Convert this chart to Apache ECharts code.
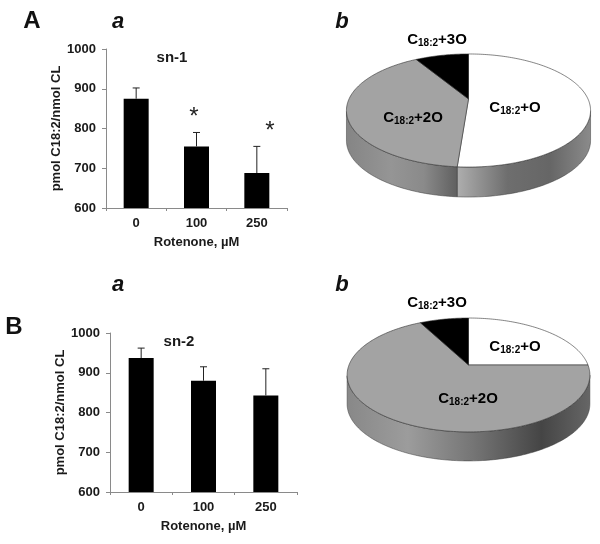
<!DOCTYPE html>
<html><head><meta charset="utf-8">
<style>html,body{margin:0;padding:0;background:#fff}#c{width:600px;height:544px}</style>
<script src="https://cdn.jsdelivr.net/npm/echarts@6/dist/echarts.min.js"></script>
</head><body><div id="c"></div>
<script>
const categories = ['0', '100', '250'];
const snOneMeans = [875, 755, 688];
const snOneErrorTops = [902, 790, 755];
const snTwoMeans = [937, 880, 843];
const snTwoErrorTops = [962, 915, 910];
const pieSlices = ['C18:2+O', 'C18:2+2O', 'C18:2+3O'];
const pieAValues = [51.2, 40.2, 8.6];
const pieBValues = [25, 67.3, 7.7];
const pieColors = ['#ffffff', '#a3a3a3', '#000000'];

const FONT = '"Liberation Sans", Arial, sans-serif';
const TXT = '#1a1a1a';

function axisSet(gridIndex, yName, nameGap) {
  return {
    x: {
      type: 'category', gridIndex, data: categories,
      name: 'Rotenone, µM', nameLocation: 'middle', nameGap: 28,
      nameTextStyle: { fontFamily: FONT, fontWeight: 'bold', fontSize: 13, color: TXT },
      axisLine: { lineStyle: { color: '#8a8a8a', width: 1 } },
      axisTick: { show: true, alignWithLabel: false, length: 3, lineStyle: { color: '#8a8a8a' } },
      axisLabel: { fontFamily: FONT, fontWeight: 'bold', fontSize: 13, color: TXT, margin: 9 },
      splitLine: { show: false }
    },
    y: {
      type: 'value', gridIndex, min: 600, max: 1000, interval: 100,
      name: yName, nameLocation: 'middle', nameGap, nameRotate: 90,
      nameTextStyle: { fontFamily: FONT, fontWeight: 'bold', fontSize: 13, color: TXT },
      axisLine: { show: true, lineStyle: { color: '#8a8a8a', width: 1 } },
      axisTick: { show: true, length: 4, lineStyle: { color: '#8a8a8a' } },
      axisLabel: { fontFamily: FONT, fontWeight: 'bold', fontSize: 13, color: TXT, margin: 10,
                   formatter: (v) => String(v) },
      splitLine: { show: false }
    }
  };
}
const a0 = axisSet(0, 'pmol C18:2/nmol CL', 41);
const a1 = axisSet(1, 'pmol C18:2/nmol CL', 41);

function bars(idx, means) {
  return { type: 'bar', xAxisIndex: idx, yAxisIndex: idx, data: means, barWidth: 25,
           itemStyle: { color: '#000' }, z: 3, silent: true };
}
function whisker(idx, means, tops) {
  return {
    type: 'custom', xAxisIndex: idx, yAxisIndex: idx, z: 2, silent: true,
    data: means.map((m, i) => [i, m, tops[i]]),
    encode: { x: 0, y: [1, 2] },
    renderItem(params, api) {
      const lo = api.coord([api.value(0), api.value(1)]);
      const hi = api.coord([api.value(0), api.value(2)]);
      const st = { stroke: '#222', lineWidth: 1, fill: 'none' };
      return { type: 'group', children: [
        { type: 'line', shape: { x1: lo[0], y1: lo[1], x2: hi[0], y2: hi[1] }, style: st },
        { type: 'line', shape: { x1: hi[0] - 3.5, y1: hi[1], x2: hi[0] + 3.5, y2: hi[1] }, style: st }
      ] };
    }
  };
}

// Perspective disc: slices are laid out clockwise from twelve o'clock.
function pieSeries(values, geo) {
  const total = values.reduce((s, v) => s + v, 0);
  const point = (t) => {
    const X = Math.sin(t), Y = Math.cos(t), d = 1 + geo.p * Y;
    return [geo.cx + geo.rx * X / d, geo.apexY - geo.ry * Y / d];
  };
  const midY = (point(0)[1] + point(Math.PI)[1]) / 2;
  return {
    type: 'custom', coordinateSystem: 'none', silent: true, z: 4,
    data: values.map((v, i) => [v, i]),
    renderItem(params, api) {
      const i = params.dataIndex;
      let acc = 0;
      for (let k = 0; k < i; k++) acc += values[k];
      const t0 = acc / total * 2 * Math.PI, t1 = (acc + values[i]) / total * 2 * Math.PI;
      const n = Math.max(4, Math.ceil((t1 - t0) / 0.02));
      const arc = [];
      for (let k = 0; k <= n; k++) arc.push(point(t0 + (t1 - t0) * k / n));
      const children = [];
      const front = arc.filter(q => q[1] >= midY);
      const w = geo.walls[i];
      if (front.length > 1 && w) {
        const low = front.slice().reverse().map(q => [q[0], q[1] + geo.depth]);
        children.push({
          type: 'polygon', shape: { points: front.concat(low) },
          style: { fill: new echarts.graphic.LinearGradient(w.x0, 0, w.x1, 0, w.stops, true),
                   stroke: '#3a3a3a', lineWidth: 0.5 }
        });
      }
      children.push({
        type: 'polygon', shape: { points: [[geo.cx, geo.apexY]].concat(arc) },
        style: { fill: pieColors[i], stroke: '#333', lineWidth: 0.6 }
      });
      return { type: 'group', children };
    }
  };
}
const stops = (...a) => a.map(([offset, color]) => ({ offset, color }));
const geoA = { cx: 468.5, apexY: 99, rx: 119.5, ry: 54.2, p: 0.2035, depth: 30, walls: [
  { x0: 457, x1: 590, stops: stops([0, '#aeaeae'], [0.38, '#6e6e6e'], [0.7, '#666666'], [1, '#8a8a8a']) },
  { x0: 347, x1: 457, stops: stops([0, '#858585'], [0.4, '#959595'], [0.7, '#8a8a8a'], [1, '#606060']) }
] };
const geoB = { cx: 468.5, apexY: 365, rx: 119.5, ry: 55.2, p: 0.175, depth: 29, walls: [
  null,
  { x0: 347, x1: 590, stops: stops([0, '#888888'], [0.25, '#9c9c9c'], [0.52, '#757575'], [0.8, '#454545'], [1, '#666666']) }
] };

function labelText(s) {
  const m = s.match(/^C(18:2)(.*)$/);
  return '{b|C}{s|' + m[1] + '}{b|' + m[2] + '}';
}
const richLabel = {
  b: { fontFamily: FONT, fontWeight: 'bold', fontSize: 15, color: TXT, lineHeight: 18 },
  s: { fontFamily: FONT, fontWeight: 'bold', fontSize: 10, color: TXT, lineHeight: 18, padding: [7, 0, 0, 0] }
};
function sliceLabel(name, x, y) {
  return { type: 'text', x, y, z: 20, silent: true,
    style: { text: labelText(name), rich: richLabel, align: 'center', verticalAlign: 'middle' } };
}
function plain(text, x, y, font, color) {
  return { type: 'text', x, y, z: 20, silent: true,
    style: { text, font, fill: color || TXT, align: 'center', verticalAlign: 'middle' } };
}
const graphics = [
  plain('A', 32, 21, 'bold 24px ' + FONT, '#111'),
  plain('B', 14, 327, 'bold 24px ' + FONT, '#111'),
  plain('a', 118, 22, 'italic bold 22px ' + FONT, '#111'),
  plain('a', 118, 285, 'italic bold 22px ' + FONT, '#111'),
  plain('b', 342, 22, 'italic bold 22px ' + FONT, '#111'),
  plain('b', 342, 285, 'italic bold 22px ' + FONT, '#111'),
  plain('sn-1', 172, 58, 'bold 15px ' + FONT),
  plain('sn-2', 179, 342, 'bold 15px ' + FONT),
  plain('*', 194, 117, '24px ' + FONT, '#222'),
  plain('*', 270, 131, '24px ' + FONT, '#222'),
  sliceLabel(pieSlices[2], 437, 40),
  sliceLabel(pieSlices[0], 515, 108),
  sliceLabel(pieSlices[1], 413, 118),
  sliceLabel(pieSlices[2], 437, 303),
  sliceLabel(pieSlices[0], 515, 347),
  sliceLabel(pieSlices[1], 468, 399)
];

const chart = echarts.init(document.getElementById('c'), null, { renderer: 'canvas' });
chart.setOption({
  animation: false,
  backgroundColor: '#fff',
  grid: [
    { left: 106, top: 49, width: 181, height: 159 },
    { left: 110, top: 333, width: 187, height: 159 }
  ],
  xAxis: [a0.x, a1.x],
  yAxis: [a0.y, a1.y],
  graphic: graphics,
  series: [
    whisker(0, snOneMeans, snOneErrorTops),
    bars(0, snOneMeans),
    whisker(1, snTwoMeans, snTwoErrorTops),
    bars(1, snTwoMeans),
    pieSeries(pieAValues, geoA),
    pieSeries(pieBValues, geoB)
  ]
});
</script></body></html>
